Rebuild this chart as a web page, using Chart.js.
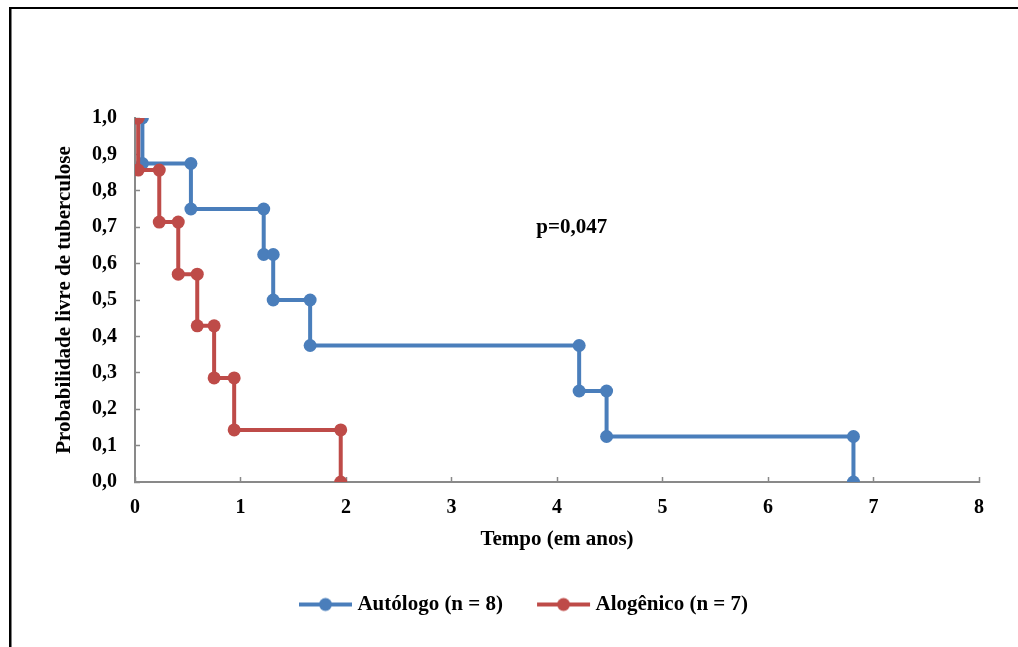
<!DOCTYPE html>
<html>
<head>
<meta charset="utf-8">
<script src="https://cdn.jsdelivr.net/npm/chart.js@4/dist/chart.umd.min.js"></script>
<style>
  html, body { margin: 0; padding: 0; background: #fff; }
  #wrap { width: 1018px; height: 647px; position: relative; }
</style>
</head>
<body>
<div id="wrap"><canvas id="c" width="1018" height="647"></canvas></div>
<script>
// ---- Data ----
const autologoLabel = 'Autólogo (n = 8)';
const autologoX = [0, 0.07, 0.07, 0.53, 0.53, 1.22, 1.22, 1.31, 1.31, 1.66, 1.66, 4.21, 4.21, 4.47, 4.47, 6.81, 6.81];
const autologoY = [1, 1, 0.875, 0.875, 0.75, 0.75, 0.625, 0.625, 0.5, 0.5, 0.375, 0.375, 0.25, 0.25, 0.125, 0.125, 0];

const alogenicoLabel = 'Alogênico (n = 7)';
const alogenicoX = [0, 0.03, 0.03, 0.23, 0.23, 0.41, 0.41, 0.59, 0.59, 0.75, 0.75, 0.94, 0.94, 1.95, 1.95];
const alogenicoY = [1, 1, 0.857, 0.857, 0.714, 0.714, 0.571, 0.571, 0.429, 0.429, 0.286, 0.286, 0.143, 0.143, 0];

const xTicks = [0, 1, 2, 3, 4, 5, 6, 7, 8];
const yTicks = [0, 0.1, 0.2, 0.3, 0.4, 0.5, 0.6, 0.7, 0.8, 0.9, 1.0];
const xTitle = 'Tempo (em anos)';
const yTitle = 'Probabilidade livre de tuberculose';
const pText = 'p=0,047';
const pPos = [4.14, 0.70];

// ---- Styles ----
const BLUE = '#4A7EBB';
const RED = '#BE4B48';
const AXIS = '#898989';
const FONT = 'Liberation Serif';

function toPoints(xs, ys) { return xs.map((x, i) => ({ x: x, y: ys[i] })); }

function legendImage(color) {
  const c = document.createElement('canvas');
  c.width = 110; c.height = 16;
  const g = c.getContext('2d');
  g.strokeStyle = color; g.lineWidth = 4;
  g.beginPath(); g.moveTo(43, 8); g.lineTo(96, 8); g.stroke();
  g.fillStyle = color;
  g.beginPath(); g.arc(69.5, 8, 6.5, 0, Math.PI * 2); g.fill();
  return c;
}

const framePlugin = {
  id: 'frame',
  beforeDraw(chart) {
    const ctx = chart.ctx;
    ctx.save();
    ctx.fillStyle = '#fff';
    ctx.fillRect(0, 0, chart.width, chart.height);
    ctx.fillStyle = '#000';
    ctx.fillRect(9, 7, 2.5, chart.height - 7);
    ctx.fillRect(9, 7, chart.width - 9, 2);
    ctx.restore();
  }
};

const pPlugin = {
  id: 'ptext',
  afterDatasetsDraw(chart) {
    const ctx = chart.ctx;
    const x = chart.scales.x.getPixelForValue(pPos[0]);
    const y = chart.scales.y.getPixelForValue(pPos[1]);
    ctx.save();
    ctx.font = 'bold 21px "' + FONT + '"';
    ctx.fillStyle = '#000';
    ctx.textAlign = 'center';
    ctx.textBaseline = 'middle';
    ctx.fillText(pText, x, y);
    ctx.restore();
  }
};

const imgs = [legendImage(BLUE), legendImage(RED)];

new Chart(document.getElementById('c'), {
  type: 'scatter',
  data: {
    datasets: [
      {
        label: autologoLabel,
        data: toPoints(autologoX, autologoY),
        showLine: true,
        borderColor: BLUE,
        backgroundColor: BLUE,
        borderWidth: 4,
        pointRadius: 6.5,
        pointBorderWidth: 0,
        pointHoverRadius: 6.5,
        order: 1
      },
      {
        label: alogenicoLabel,
        data: toPoints(alogenicoX, alogenicoY),
        showLine: true,
        borderColor: RED,
        backgroundColor: RED,
        borderWidth: 4,
        pointRadius: 6.5,
        pointBorderWidth: 0,
        pointHoverRadius: 6.5,
        order: 0
      }
    ]
  },
  options: {
    responsive: false,
    animation: false,
    devicePixelRatio: 1,
    layout: { padding: { left: 44, top: 118, right: 39, bottom: 22 } },
    plugins: {
      tooltip: { enabled: false },
      legend: {
        position: 'bottom',
        labels: {
          usePointStyle: true,
          pointStyleWidth: 72,
          padding: 10,
          color: '#000',
          font: { family: FONT, size: 21, weight: 'bold' },
          generateLabels(chart) {
            return chart.data.datasets.map((ds, i) => ({
              text: ds.label,
              datasetIndex: i,
              pointStyle: imgs[i],
              fillStyle: ds.borderColor,
              strokeStyle: ds.borderColor,
              lineWidth: 0,
              hidden: false,
              fontColor: '#000'
            }));
          },
          sort: (a, b) => a.datasetIndex - b.datasetIndex
        }
      }
    },
    scales: {
      x: {
        type: 'linear',
        min: 0, max: 8,
        afterBuildTicks(scale) { scale.ticks = xTicks.map(v => ({ value: v })); },
        afterFit(scale) { scale.height = 102; },
        ticks: {
          color: '#000',
          padding: 19,
          font: { family: FONT, size: 20, weight: 'bold' },
          callback: v => String(v)
        },
        grid: { drawOnChartArea: false, drawTicks: true, tickLength: -5, tickColor: AXIS, tickWidth: 1.5 },
        border: { display: true, color: AXIS, width: 2 },
        title: {
          display: true, text: xTitle, color: '#000',
          font: { family: FONT, size: 21, weight: 'bold' },
          padding: { top: 0, bottom: 31.4 }
        }
      },
      y: {
        type: 'linear',
        min: 0, max: 1,
        afterBuildTicks(scale) { scale.ticks = yTicks.map(v => ({ value: v })); },
        afterFit(scale) { scale.width = 91; },
        ticks: {
          color: '#000',
          padding: 23,
          font: { family: FONT, size: 20, weight: 'bold' },
          callback: v => Number(v).toFixed(1).replace('.', ',')
        },
        grid: { drawOnChartArea: false, drawTicks: true, tickLength: -5, tickColor: AXIS, tickWidth: 1.5 },
        border: { display: true, color: AXIS, width: 2 },
        title: {
          display: true, text: yTitle, color: '#000',
          font: { family: FONT, size: 21, weight: 'bold' },
          padding: { top: 8.4, bottom: 0 }
        }
      }
    }
  },
  plugins: [framePlugin, pPlugin]
});
</script>
</body>
</html>
